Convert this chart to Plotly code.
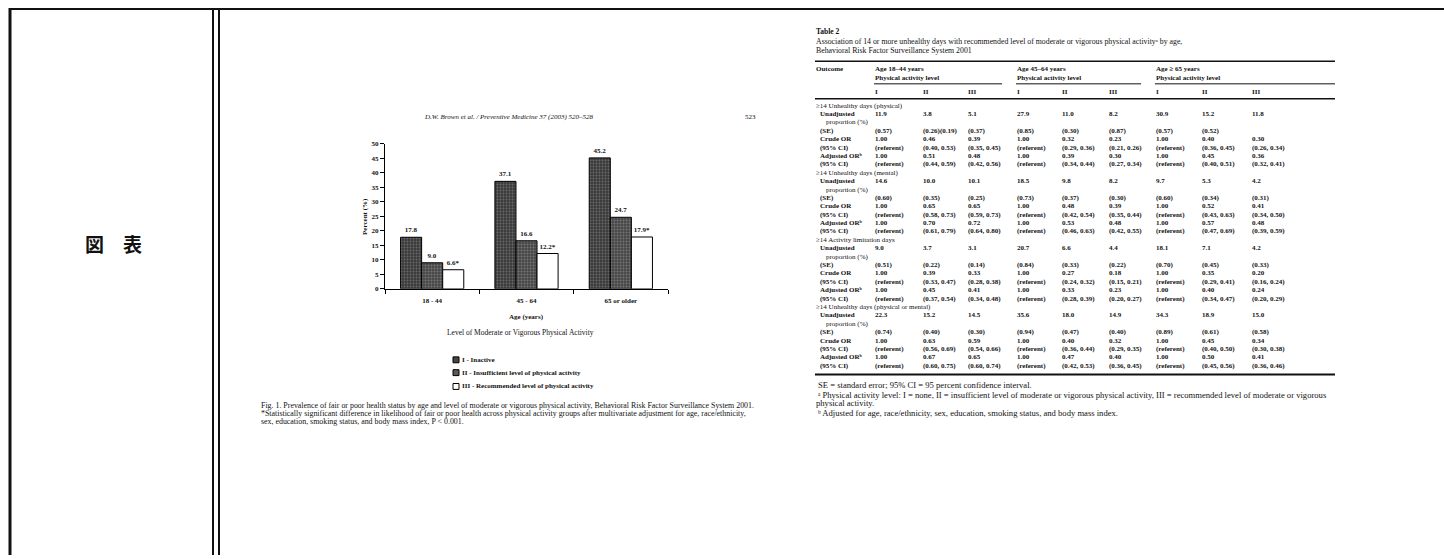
import plotly.graph_objects as go

W, H = 1444, 559
SERIF = "Liberation Serif"
INK = "#111111"

# ---- Fig. 1 data: prevalence of fair/poor health (%) ----
age_groups = ["18 - 44", "45 - 64", "65 or older"]
inactive = [17.8, 37.1, 45.2]
insufficient = [9.0, 16.6, 24.7]
recommended = [6.6, 12.2, 17.9]
recommended_sig = ["*", "*", "*"]
level_names = [
    "I - Inactive",
    "II - Insufficient level of physical activity",
    "III - Recommended level of physical activity",
]
y_ticks = [0, 5, 10, 15, 20, 25, 30, 35, 40, 45, 50]

# ---- Table 2 data ----
col_groups = ["Age 18\u201344 years", "Age 45\u201364 years", "Age \u2265 65 years"]
col_levels = ["I", "II", "III"]
row_labels = ["Unadjusted", "(SE)", "Crude OR", "(95% CI)", "Adjusted OR\u1d47", "(95% CI)"]

out_physical = "\u226514 Unhealthy days (physical)"
physical_rows = [
    ["11.9", "3.8", "5.1", "27.9", "11.0", "8.2", "30.9", "15.2", "11.8"],
    ["(0.57)", "(0.26)(0.19)", "(0.37)", "(0.85)", "(0.30)", "(0.87)", "(0.57)", "(0.52)", ""],
    ["1.00", "0.46", "0.39", "1.00", "0.32", "0.23", "1.00", "0.40", "0.30"],
    ["(referent)", "(0.40, 0.53)", "(0.35, 0.45)", "(referent)", "(0.29, 0.36)", "(0.21, 0.26)", "(referent)", "(0.36, 0.45)", "(0.26, 0.34)"],
    ["1.00", "0.51", "0.48", "1.00", "0.39", "0.30", "1.00", "0.45", "0.36"],
    ["(referent)", "(0.44, 0.59)", "(0.42, 0.56)", "(referent)", "(0.34, 0.44)", "(0.27, 0.34)", "(referent)", "(0.40, 0.51)", "(0.32, 0.41)"],
]
out_mental = "\u226514 Unhealthy days (mental)"
mental_rows = [
    ["14.6", "10.0", "10.1", "18.5", "9.8", "8.2", "9.7", "5.3", "4.2"],
    ["(0.60)", "(0.35)", "(0.25)", "(0.73)", "(0.37)", "(0.30)", "(0.60)", "(0.34)", "(0.31)"],
    ["1.00", "0.65", "0.65", "1.00", "0.48", "0.39", "1.00", "0.52", "0.41"],
    ["(referent)", "(0.58, 0.73)", "(0.59, 0.73)", "(referent)", "(0.42, 0.54)", "(0.35, 0.44)", "(referent)", "(0.43, 0.63)", "(0.34, 0.50)"],
    ["1.00", "0.70", "0.72", "1.00", "0.53", "0.48", "1.00", "0.57", "0.48"],
    ["(referent)", "(0.61, 0.79)", "(0.64, 0.80)", "(referent)", "(0.46, 0.63)", "(0.42, 0.55)", "(referent)", "(0.47, 0.69)", "(0.39, 0.59)"],
]
out_activity = "\u226514 Activity limitation days"
activity_rows = [
    ["9.0", "3.7", "3.1", "20.7", "6.6", "4.4", "18.1", "7.1", "4.2"],
    ["(0.51)", "(0.22)", "(0.14)", "(0.84)", "(0.33)", "(0.22)", "(0.70)", "(0.45)", "(0.33)"],
    ["1.00", "0.39", "0.33", "1.00", "0.27", "0.18", "1.00", "0.35", "0.20"],
    ["(referent)", "(0.33, 0.47)", "(0.28, 0.38)", "(referent)", "(0.24, 0.32)", "(0.15, 0.21)", "(referent)", "(0.29, 0.41)", "(0.16, 0.24)"],
    ["1.00", "0.45", "0.41", "1.00", "0.33", "0.23", "1.00", "0.40", "0.24"],
    ["(referent)", "(0.37, 0.54)", "(0.34, 0.48)", "(referent)", "(0.28, 0.39)", "(0.20, 0.27)", "(referent)", "(0.34, 0.47)", "(0.20, 0.29)"],
]
out_either = "\u226514 Unhealthy days (physical or mental)"
either_rows = [
    ["22.3", "15.2", "14.5", "35.6", "18.0", "14.9", "34.3", "18.9", "15.0"],
    ["(0.74)", "(0.40)", "(0.30)", "(0.94)", "(0.47)", "(0.40)", "(0.89)", "(0.61)", "(0.58)"],
    ["1.00", "0.63", "0.59", "1.00", "0.40", "0.32", "1.00", "0.45", "0.34"],
    ["(referent)", "(0.56, 0.69)", "(0.54, 0.66)", "(referent)", "(0.36, 0.44)", "(0.29, 0.35)", "(referent)", "(0.40, 0.50)", "(0.30, 0.38)"],
    ["1.00", "0.67", "0.65", "1.00", "0.47", "0.40", "1.00", "0.50", "0.41"],
    ["(referent)", "(0.60, 0.75)", "(0.60, 0.74)", "(referent)", "(0.42, 0.53)", "(0.36, 0.45)", "(referent)", "(0.45, 0.56)", "(0.36, 0.46)"],
]
table_blocks = [
    (out_physical, physical_rows),
    (out_mental, mental_rows),
    (out_activity, activity_rows),
    (out_either, either_rows),
]


def px(x):
    return x / W


def py(y):
    return 1 - y / H


annotations = []
shapes = []


def label(x, y, s, size=7.5, anchor="left", family=SERIF, angle=0, italic=False, weight="bold"):
    annotations.append(dict(
        x=px(x), y=py(y), xref="paper", yref="paper", text=s, showarrow=False,
        xanchor=anchor, yanchor="middle", textangle=angle, borderpad=0,
        font=dict(family=family, size=size, color=INK, weight=weight,
                  style="italic" if italic else "normal"),
    ))


def hline(x0, x1, y, w=1.0, color=INK):
    shapes.append(dict(type="line", xref="paper", yref="paper", x0=px(x0), x1=px(x1),
                       y0=py(y), y1=py(y), line=dict(color=color, width=w)))


def vline(x, y0, y1, w=1.0, color=INK):
    shapes.append(dict(type="line", xref="paper", yref="paper", x0=px(x), x1=px(x),
                       y0=py(y0), y1=py(y1), line=dict(color=color, width=w)))


fig = go.Figure()

bar_line = dict(color="black", width=1)
fig.add_bar(
    x=age_groups, y=inactive, name=level_names[0],
    marker=dict(line=bar_line, pattern=dict(shape=".", fgcolor="#9c9c9c", bgcolor="#3a3a3a", size=3, solidity=0.3)),
    text=[f"{v:.1f}" for v in inactive],
)
fig.add_bar(
    x=age_groups, y=insufficient, name=level_names[1],
    marker=dict(line=bar_line, pattern=dict(shape=".", fgcolor="#a8a8a8", bgcolor="#464646", size=3, solidity=0.35)),
    text=[f"{v:.1f}" for v in insufficient],
)
fig.add_bar(
    x=age_groups, y=recommended, name=level_names[2],
    marker=dict(color="white", line=bar_line),
    text=[f"{v:.1f}{s}" for v, s in zip(recommended, recommended_sig)],
)
fig.update_traces(textposition="outside", cliponaxis=False,
                  textfont=dict(family=SERIF, size=7, color=INK, weight="bold"), showlegend=False)

# ---- page frame ----
hline(9, W, 5, w=2)
vline(10, 4, H, w=3)
vline(213, 4, H, w=2)
vline(219, 4, H, w=2)
label(113, 243, "\u56f3\u3000\u8868", size=19, anchor="center", family="Noto Sans CJK JP")

# ---- Fig. 1 surroundings ----
label(508, 115, "D.W. Brown et al. / Preventive Medicine 37 (2003) 520\u2013528", size=7, anchor="center",
      italic=True, weight="normal")
label(750, 115, "523", size=7, anchor="center", weight="normal")
label(365, 215, "Percent (%)", size=7, anchor="center", angle=-90)
label(526, 318, "Age (years)", size=7, anchor="center")
label(520, 333, "Level of Moderate or Vigorous Physical Activity", size=7.5, anchor="center", weight="normal")

legend_y = [361, 374, 388]
legend_fill = ["#454545", "#5a5a5a", "white"]
for name, ly, fill in zip(level_names, legend_y, legend_fill):
    shapes.append(dict(type="rect", xref="paper", yref="paper", x0=px(453), x1=px(459),
                       y0=py(ly + 3), y1=py(ly - 3), line=dict(color="black", width=1), fillcolor=fill))
    label(461, ly, name, size=7)

caption = [
    "Fig. 1. Prevalence of fair or poor health status by age and level of moderate or vigorous physical activity, Behavioral Risk Factor Surveillance System 2001.",
    "*Statistically significant difference in likelihood of fair or poor health across physical activity groups after multivariate adjustment for age, race/ethnicity,",
    "sex, education, smoking status, and body mass index, P &lt; 0.001.",
]
for i, line in enumerate(caption):
    label(260, 407 + 8.3 * i, line, size=7.9, weight="normal")

# ---- Table 2 ----
TX = 815
col_x = [874, 922, 967, 1016, 1061, 1108, 1155, 1201, 1251]
group_x = [col_x[0], col_x[3], col_x[6]]
rule_end = 1335

label(TX, 28, "Table 2", size=7.5)
label(TX, 38, "Association of 14 or more unhealthy days with recommended level of moderate or vigorous physical activity\u1d43 by age,", size=7.8, weight="normal")
label(TX, 47, "Behavioral Risk Factor Surveillance System 2001", size=7.8, weight="normal")
hline(TX, rule_end, 58, w=1.5)
label(TX, 66, "Outcome", size=7)
for gx, gname in zip(group_x, col_groups):
    label(gx, 66, gname, size=7)
    label(gx, 75, "Physical activity level", size=7)
for gi, gx in enumerate(group_x):
    end = group_x[gi + 1] - 14 if gi < 2 else rule_end
    hline(gx, end, 81, w=1)
for i, cx in enumerate(col_x):
    label(cx, 89, col_levels[i % 3], size=7)
hline(TX, rule_end, 96, w=1.5)

row_step = 8.52
y = 103
for heading, rows in table_blocks:
    label(TX, y, heading, size=7, weight="normal")
    y += row_step
    for ri, (rname, vals) in enumerate(zip(row_labels, rows)):
        label(TX + 4, y, rname, size=7)
        for cx, v in zip(col_x, vals):
            if v:
                label(cx, y, v, size=7)
        if ri == 0:
            y += row_step
            label(TX + 10, y, "proportion (%)", size=7, weight="normal")
        y += row_step
hline(TX, rule_end, 376, w=2)

notes = [
    (TX + 2, 387, "SE = standard error; 95% CI = 95 percent confidence interval."),
    (TX + 2, 397, "\u1d43 Physical activity level: I = none, II = insufficient level of moderate or vigorous physical activity, III = recommended level of moderate or vigorous"),
    (TX, 405, "physical activity."),
    (TX + 2, 415, "\u1d47 Adjusted for age, race/ethnicity, sex, education, smoking status, and body mass index."),
]
for nx, ny, s in notes:
    label(nx, ny, s, size=8.6, weight="normal")

fig.update_layout(
    width=W, height=H, autosize=False,
    margin=dict(l=0, r=0, t=0, b=0),
    paper_bgcolor="white", plot_bgcolor="white",
    barmode="group", bargap=0.33, bargroupgap=0,
    font=dict(family=SERIF, size=7, color=INK),
    xaxis=dict(
        domain=[px(385), px(668)], range=[-0.5, 2.5], type="category",
        showline=True, linecolor="black", linewidth=1, ticks="outside", ticklen=4,
        tickcolor="black", tickson="boundaries", showgrid=False, zeroline=False,
        tickfont=dict(family=SERIF, size=7, color=INK, weight="bold"), ticklabelstandoff=5,
    ),
    yaxis=dict(
        domain=[py(289), py(142)], range=[0, 50], tickvals=y_ticks,
        showline=True, linecolor="black", linewidth=1, ticks="outside", ticklen=4,
        tickcolor="black", showgrid=False, zeroline=False,
        tickfont=dict(family=SERIF, size=7, color=INK, weight="bold"),
    ),
    annotations=annotations,
    shapes=shapes,
)

fig.write_html("out.html")
